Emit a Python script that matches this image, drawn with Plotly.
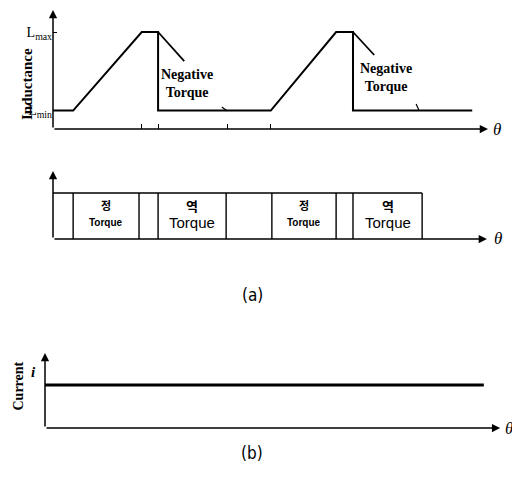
import plotly.graph_objects as go

# ---- data ---------------------------------------------------------------
# rotor angle theta in electrical degrees (one period = 360)
L_MIN, L_MAX = 0.19, 1.0
theta_L = [0, 37, 163, 193, 193, 400, 520, 551, 551, 770]
L_vals = [L_MIN, L_MIN, L_MAX, L_MAX, L_MIN, L_MIN, L_MAX, L_MAX, L_MIN, L_MIN]

# falling-inductance slopes continuing past the drop (negative torque zone)
neg_slope_theta = [[193, 241], [551, 590]]
neg_slope_L = [[1.0, 0.70], [1.0, 0.763]]
neg_label_theta = [246, 612]
neg_label_L = [0.469, 0.526]
leader_theta = [[310, 320], [667, 672]]
leader_L = [[0.227, 0.186], [0.258, 0.196]]
axis_ticks_theta = [162, 193, 320, 399]

# torque region boundaries and labels
region_edges = [37, 158, 193, 318, 402, 520, 551, 678]
region_head = ["정", "역", "정", "역"]
region_text = "Torque"

# phase current (constant)
current_theta = [0, 806]
current_vals = [1.0, 1.0]

SERIF = "Liberation Serif, Times New Roman, serif"
SANS = "Liberation Sans, Arial, sans-serif"
KR = "Noto Sans CJK KR, sans-serif"
BLACK = "#000000"

fig = go.Figure()

# ---- (a) inductance profile --------------------------------------------
fig.add_trace(go.Scatter(x=theta_L, y=L_vals, mode="lines",
                         line=dict(color=BLACK, width=2),
                         xaxis="x", yaxis="y", cliponaxis=False))
for tx, ly in zip(neg_slope_theta, neg_slope_L):
    fig.add_trace(go.Scatter(x=tx, y=ly, mode="lines",
                             line=dict(color=BLACK, width=1.8),
                             xaxis="x", yaxis="y"))
for tx, ly in zip(leader_theta, leader_L):
    fig.add_trace(go.Scatter(x=tx, y=ly, mode="lines",
                             line=dict(color=BLACK, width=1.2),
                             xaxis="x", yaxis="y"))

# ---- (a) torque regions --------------------------------------------------
bx, by = [0, region_edges[-1], None], [1, 1, None]
for e in region_edges:
    bx += [e, e, None]
    by += [0, 1, None]
fig.add_trace(go.Scatter(x=bx, y=by, mode="lines",
                         line=dict(color=BLACK, width=1.4),
                         xaxis="x2", yaxis="y2", cliponaxis=False))

# ---- (b) current -------------------------------------------------------
fig.add_trace(go.Scatter(x=current_theta, y=current_vals, mode="lines",
                         line=dict(color=BLACK, width=3),
                         xaxis="x3", yaxis="y3", cliponaxis=False))

ann = []


def arrow(xref, yref, x0, y0, x1, y1):
    ann.append(dict(x=x1, y=y1, ax=x0, ay=y0, xref=xref, yref=yref,
                    axref=xref, ayref=yref, text="", showarrow=True,
                    arrowhead=2, arrowsize=1.1, arrowwidth=1.5,
                    arrowcolor=BLACK))


# axis arrows
arrow("x", "y", 0, 0, 0, 1.227)
arrow("x", "y", 0, 0, 799, 0)
arrow("x2", "y2", 0, 0, 0, 1.478)
arrow("x2", "y2", 0, 0, 797, 0)
arrow("x3", "y3", 0, 0, 0, 1.744)
arrow("x3", "y3", 0, 0, 836, 0)

theta_font = dict(family=SERIF, size=17, color=BLACK)
for xr, yr, xv in [("x", "y", 804), ("x2", "y2", 806), ("x3", "y3", 841)]:
    ann.append(dict(x=xv, y=0, xref=xr, yref=yr, text="<i>θ</i>",
                    showarrow=False, xanchor="left", yanchor="middle",
                    font=theta_font))

for tx, ly in zip(neg_label_theta, neg_label_L):
    ann.append(dict(x=tx, y=ly, xref="x", yref="y",
                    text="<b>Negative<br>Torque</b>", showarrow=False,
                    font=dict(family=SERIF, size=14, color=BLACK)))

ann.append(dict(x=17 / 512, y=0.464, xref="paper", yref="y",
                text="<b>Inductance</b>", textangle=-90, showarrow=False,
                font=dict(family=SERIF, size=15, color=BLACK)))

# region labels (centred in each torque box)
for k, head in enumerate(region_head):
    cx = (region_edges[2 * k] + region_edges[2 * k + 1]) / 2
    small = head == "정"
    ann.append(dict(x=cx, y=0.73, xref="x2", yref="y2",
                    text=f"<b>{head}</b>", showarrow=False,
                    font=dict(family=KR, size=11 if small else 13,
                              color=BLACK)))
    ann.append(dict(x=cx, y=0.36, xref="x2", yref="y2",
                    text=f"<b>{region_text}</b>" if small else region_text,
                    showarrow=False,
                    font=dict(family=SANS, size=10 if small else 15,
                              color=BLACK)))

ann.append(dict(x=29 / 512, y=1.30, xref="paper", yref="y3",
                text="<b><i>i</i></b>", showarrow=False,
                font=dict(family=SERIF, size=15, color=BLACK)))
ann.append(dict(x=9 / 512, y=0.977, xref="paper", yref="y3",
                text="<b>Current</b>", textangle=-90, showarrow=False,
                font=dict(family=SERIF, size=14, color=BLACK)))

cap_font = dict(family="DejaVu Sans Condensed, Liberation Sans Narrow, DejaVu Sans, sans-serif",
                size=17, color=BLACK)
ann.append(dict(x=252 / 512, y=1 - 295 / 498, xref="paper", yref="paper",
                text="(a)", showarrow=False, font=cap_font))
ann.append(dict(x=252 / 512, y=1 - 465 / 498, xref="paper", yref="paper",
                text="(b)", showarrow=False, font=cap_font))

PX_PER_DEG = 196 / 360
W, H = 512, 498

hidden = dict(showgrid=False, zeroline=False, showline=False,
              showticklabels=False, ticks="")

fig.update_layout(
    width=W, height=H, margin=dict(l=0, r=0, t=0, b=0),
    paper_bgcolor="white", plot_bgcolor="white", showlegend=False,
    xaxis=dict(domain=[53 / W, 1], range=[0, (W - 53) / PX_PER_DEG],
               showgrid=False, zeroline=False, showline=False,
               showticklabels=False, ticks="inside", ticklen=5,
               tickwidth=1.2, tickcolor=BLACK, tickvals=axis_ticks_theta,
               anchor="y"),
    yaxis=dict(domain=[1 - 129 / H, 1], range=[0, 129 / 97],
               showgrid=False, zeroline=False, showline=False,
               tickvals=[L_MIN, L_MAX],
               ticktext=["L<sub>min</sub>", "L<sub>max</sub>"],
               ticks="inside", ticklen=4, tickwidth=1.2, tickcolor=BLACK,
               tickfont=dict(family=SERIF, size=14, color=BLACK),
               anchor="x"),
    xaxis2=dict(domain=[53 / W, 1], range=[0, (W - 53) / PX_PER_DEG],
                anchor="y2", **hidden),
    yaxis2=dict(domain=[1 - 239 / H, 1 - 150 / H], range=[0, 89 / 46],
                anchor="x2", **hidden),
    xaxis3=dict(domain=[45 / W, 1], range=[0, (W - 45) / PX_PER_DEG],
                anchor="y3", **hidden),
    yaxis3=dict(domain=[1 - 428 / H, 1 - 340 / H], range=[0, 88 / 43],
                anchor="x3", **hidden),
    annotations=ann,
)

fig.write_html("out.html")
